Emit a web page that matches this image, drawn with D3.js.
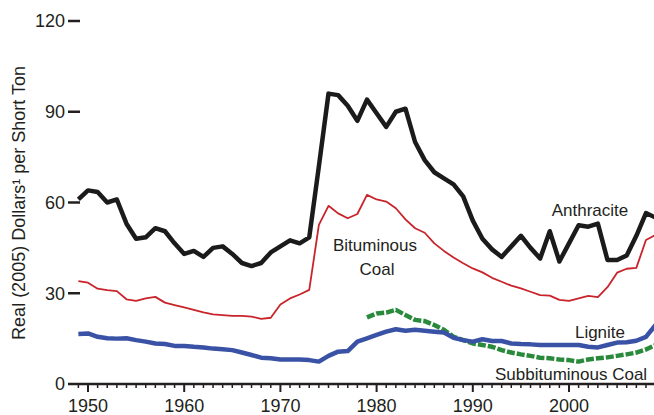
<!DOCTYPE html>
<html><head><meta charset="utf-8">
<script src="https://cdn.jsdelivr.net/npm/d3@7/dist/d3.min.js"></script>
<style>body{margin:0;background:#fff}svg{display:block}text{font-family:"Liberation Sans",Arial,sans-serif;fill:#231f20}</style>
</head><body><svg id="c" width="654" height="415"></svg>
<script>
const years = d3.range(1949, 2010);
const anthracite = [61,64,63.5,60,61,53,48,48.5,51.5,50.5,46.5,43,44,42,45,45.5,43,40,39,40,43.5,45.5,47.5,46.5,48.5,72,96,95.5,92,87,94,89.5,85,90,91,80,74,70,68,66,62,54,48,44.5,42,45.5,49,45,41.5,50.5,40.5,46.5,52.5,52,53,41,41,42.5,49,56.5,55];
const bituminous = [34,33.5,31.5,31,30.7,28,27.5,28.3,28.8,26.9,26.1,25.3,24.5,23.7,23,22.8,22.5,22.5,22.3,21.5,21.9,26.3,28.3,29.6,31.1,52.6,58.9,56.4,54.8,56.2,62.5,61,60.3,58.1,54.4,51.5,50,46.5,44,41.8,39.9,38.2,36.9,35.1,33.8,32.5,31.6,30.5,29.4,29.2,27.8,27.5,28.3,29.1,28.7,32,36.8,38.1,38.4,47.6,49.3];
const lignite = [16.5,16.7,15.6,15.1,15,15.1,14.5,14,13.4,13.2,12.6,12.6,12.3,12.1,11.7,11.5,11.2,10.4,9.6,8.7,8.5,8.1,8.1,8.1,7.9,7.4,9.3,10.7,10.9,14,15.1,16.2,17.3,18.1,17.6,17.9,17.6,17.3,17,15.3,14.5,14,14.8,14.2,14.2,13.4,13.2,13.1,12.9,12.9,12.9,12.9,12.9,12.3,12.1,12.9,13.7,13.8,14.3,15.6,19.5];
const subYears = d3.range(1979, 2010);
const subbituminous = [22,23.3,23.6,24.5,22.8,21.2,20.8,19.5,17.9,15.6,14.5,13.4,12.9,12.3,11.2,10.4,9.8,9.3,8.7,8.5,8.1,7.9,7.4,8.1,8.5,8.8,9.3,9.8,10.4,11.4,12.9];
const yTicks = [0,30,60,90,120];
const xLabels = [1950,1960,1970,1980,1990,2000];
const yTitle = "Real (2005) Dollars\u00b9 per Short Ton";

const svg = d3.select("#c");
const x = d3.scaleLinear().domain([1950, 2000]).range([88, 569]);
const y = d3.scaleLinear().domain([0, 120]).range([384, 21]);

// y ticks
const yg = svg.append("g");
yTicks.filter(v=>v>0).forEach(v=>{
  yg.append("line").attr("x1",68).attr("x2",80).attr("y1",y(v)).attr("y2",y(v)).attr("stroke","#231f20").attr("stroke-width",2.5);
});
yTicks.forEach(v=>{
  yg.append("text").attr("x",65).attr("y",y(v)).attr("dy","0.36em").attr("text-anchor","end").attr("font-size",18).text(v);
});
svg.append("text").attr("transform","translate(25,203) rotate(-90)").attr("text-anchor","middle").attr("font-size",18).text(yTitle);

// x axis
svg.append("line").attr("x1",68).attr("x2",654).attr("y1",384).attr("y2",384).attr("stroke","#231f20").attr("stroke-width",2.5);
years.forEach(yr=>{
  const major = yr%10===0;
  svg.append("line").attr("x1",x(yr)).attr("x2",x(yr)).attr("y1",384).attr("y2",major?392:388).attr("stroke","#231f20").attr("stroke-width",major?2:1.5);
});
xLabels.forEach(v=>{
  svg.append("text").attr("x",x(v)).attr("y",412).attr("text-anchor","middle").attr("font-size",18).text(v);
});

const line = d3.line().x(d=>x(d[0])).y(d=>y(d[1]));
const draw = (xs, vs, color, w, dash) => {
  const p = svg.append("path").datum(xs.map((a,i)=>[a,vs[i]])).attr("d",line).attr("fill","none")
    .attr("stroke",color).attr("stroke-width",w).attr("stroke-linejoin","round");
  if (dash) p.attr("stroke-dasharray",dash);
};
draw(years, bituminous, "#c8242b", 1.8);
draw(subYears, subbituminous, "#2a8a3c", 4.5, "8,2");
draw(years, lignite, "#3a52a6", 4.5);
draw(years, anthracite, "#1b1b1b", 4.5);

const lab = (t, xx, yy) => svg.append("text").attr("x",xx).attr("y",yy).attr("font-size",17).attr("text-anchor","middle").text(t);
lab("Anthracite", 590, 216);
lab("Bituminous", 375, 251);
lab("Coal", 377, 275);
lab("Lignite", 600, 338);
svg.append("text").attr("x",495).attr("y",380).attr("font-size",17).text("Subbituminous Coal");
</script></body></html>
